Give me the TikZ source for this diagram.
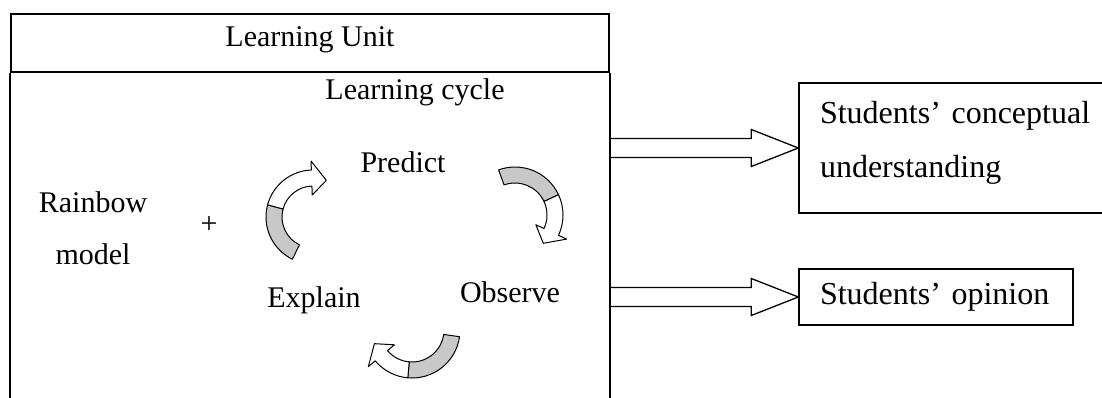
\documentclass[tikz,border=0pt]{standalone}
\usepackage{fontspec}
\setmainfont{Liberation Serif}
\usepackage{xcolor}
\usepackage{tikz}
\usetikzlibrary{calc}
\definecolor{RGrey}{HTML}{C8C8C8}

% curved ribbon arrow: centre, radius, tail angle, twist angle, head angle, tip angle
\newcommand{\cyclearrow}[6]{%
  \pgfmathsetmacro{\cyo}{#2+8}%
  \pgfmathsetmacro{\cyi}{#2-8}%
  \pgfmathsetmacro{\cyho}{#2+17}%
  \pgfmathsetmacro{\cyhi}{#2-17}%
  \filldraw[rb,fill=RGrey] ($(#1)+(#3:\cyo)$) arc[start angle=#3,end angle=#4,radius=\cyo]
    -- ($(#1)+(#4:\cyi)$) arc[start angle=#4,end angle=#3,radius=\cyi] -- cycle;
  \filldraw[rb,fill=white] ($(#1)+(#4:\cyo)$) arc[start angle=#4,end angle=#5,radius=\cyo]
    -- ($(#1)+(#5:\cyho)$) -- ($(#1)+(#6:#2)$) -- ($(#1)+(#5:\cyhi)$)
    -- ($(#1)+(#5:\cyi)$) arc[start angle=#5,end angle=#4,radius=\cyi] -- cycle;
}

% hollow block arrow from #1 to #2
\newcommand{\hollowarrow}[2]{%
  \draw[ha] ($(#1)+(0,9.5)$) -- ($(#2)+(-47,9.5)$) -- ($(#2)+(-47,18.5)$) -- (#2)
    -- ($(#2)+(-47,-18.5)$) -- ($(#2)+(-47,-9.5)$) -- ($(#1)+(0,-9.5)$);
}

\begin{document}
\begin{tikzpicture}[x=1pt,y=1pt,
  every node/.style={font=\fontsize{30}{50}\selectfont},
  lbl/.style={inner sep=0pt,align=center,text height=20pt,text depth=6pt},
  fr/.style={draw=black,line width=1.6pt},
  ob/.style={draw=black,line width=1.4pt,align=left,inner xsep=21pt,inner ysep=0pt,
    font=\fontsize{32}{54}\selectfont},
  rb/.style={draw=black,line width=1pt,line join=round},
  ha/.style={draw=black,line width=1.3pt,line join=miter}
]
  \useasboundingbox (0,0) rectangle (1102,-398);
  \clip (0,0) rectangle (1102,-398);

  \node[fr,lbl,text depth=13pt,minimum width=598pt,minimum height=58pt] (unit) at (310,-43)
    {Learning Unit};
  \draw[fr] (unit.south west) -- ++(0,-360);
  \draw[fr] (unit.south east) -- ++(0,-360);

  \node[lbl] (cyc) at (415,-93) {Learning cycle};
  \node[lbl,font=\fontsize{30}{52}\selectfont] (rain) at (93,-257) {Rainbow\\model};
  \node[lbl] (plus) at (209,-226) {+};
  \node[lbl] (pred) at (403,-166) {Predict};
  \node[lbl] (obs) at (510,-295) {Observe};
  \node[lbl] (expl) at (314,-300) {Explain};

  \coordinate (arcA) at (313,-217);
  \coordinate (arcB) at (515,-215);
  \coordinate (arcC) at (412,-330);
  \cyclearrow{arcA}{39}{-116}{-195}{-268}{-290}
  \cyclearrow{arcB}{40}{-250}{-335}{-385}{-405}
  \cyclearrow{arcC}{40}{-8}{-95}{-140}{-160}

  \node[ob,minimum width=340pt,minimum height=130pt,text width=298pt,
    text height=22pt,text depth=70pt] (conc) at (969,-148)
    {Students’ conceptual\\understanding};
  \node[ob,minimum width=274pt,minimum height=56pt,text width=232pt] (opin) at (936,-297)
    {Students’ opinion};

  \hollowarrow{unit.east |- conc.west}{conc.west}
  \hollowarrow{unit.east |- opin.west}{opin.west}
\end{tikzpicture}
\end{document}
